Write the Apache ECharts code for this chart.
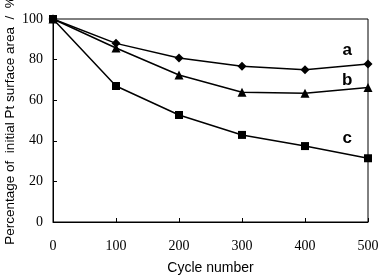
<!DOCTYPE html>
<html><head><meta charset="utf-8">
<script src="https://cdn.jsdelivr.net/npm/echarts@6/dist/echarts.min.js"></script>
<style>html,body{margin:0;padding:0;background:#fff}#c{width:380px;height:276px}</style>
</head><body><div id="c"></div>
<script>
const cycles = [0, 100, 200, 300, 400, 500];
const seriesA = [100, 88.0, 80.8, 76.7, 75.0, 77.8];
const seriesB = [100, 85.7, 72.4, 63.9, 63.4, 66.2];
const seriesC = [100, 67.0, 52.7, 42.9, 37.4, 31.4];
const seriesNames = ['a', 'b', 'c'];
const labelPos = [[467, 84.5], [467, 70], [467, 41]];
const xTicks = [0, 100, 200, 300, 400, 500];
const yTicks = [0, 20, 40, 60, 80, 100];

const chart = echarts.init(document.getElementById('c'));
function mk(name, vals, symbol, size) {
  return {
    name, type: 'line', data: cycles.map((x, i) => [x, vals[i]]),
    symbol, symbolSize: size, showSymbol: true,
    lineStyle: {color: '#000', width: 1.5}, itemStyle: {color: '#000'},
    animation: false
  };
}
chart.setOption({
  animation: false,
  grid: {left: 53, right: 12, top: 19, bottom: 54, show: true, borderColor: '#000', borderWidth: 1,
    outerBoundsMode: 'none', containLabel: false},
  xAxis: {
    type: 'value', min: 0, max: 500, interval: 100,
    name: 'Cycle number', nameLocation: 'middle', nameGap: 39,
    nameTextStyle: {fontFamily: 'Liberation Sans', fontSize: 14, color: '#000'},
    axisLine: {lineStyle: {color: '#000', width: 1}},
    axisTick: {inside: true, length: 4, lineStyle: {color: '#000'}},
    axisLabel: {fontFamily: 'Liberation Serif', fontSize: 14, color: '#000', margin: 17,
      formatter: v => xTicks.includes(v) ? String(v) : ''},
    splitLine: {show: false}
  },
  yAxis: {
    type: 'value', min: 0, max: 100, interval: 20,
    name: 'Percentage of  initial Pt surface area  /  %', nameLocation: 'middle', nameGap: 36, nameRotate: 90,
    nameMoveOverlap: false,
    nameTextStyle: {fontFamily: 'Liberation Sans', fontSize: 13.5, color: '#000'},
    axisLine: {lineStyle: {color: '#000', width: 1}},
    axisTick: {inside: true, length: 4, lineStyle: {color: '#000'}},
    axisLabel: {fontFamily: 'Liberation Serif', fontSize: 14, color: '#000', margin: 10,
      formatter: v => yTicks.includes(v) ? String(v) : ''},
    splitLine: {show: false}
  },
  series: [
    mk(seriesNames[0], seriesA, 'diamond', 9),
    mk(seriesNames[1], seriesB, 'triangle', 9),
    mk(seriesNames[2], seriesC, 'rect', 8),
    {
      type: 'scatter', symbolSize: 0, silent: true, itemStyle: {opacity: 1, color: '#000'},
      data: seriesNames.map((n, i) => ({value: labelPos[i], name: n})),
      label: {show: true, position: 'inside', formatter: p => p.name, color: '#000',
        fontFamily: 'Liberation Sans', fontWeight: 'bold', fontSize: 17}
    }
  ]
});
</script></body></html>
